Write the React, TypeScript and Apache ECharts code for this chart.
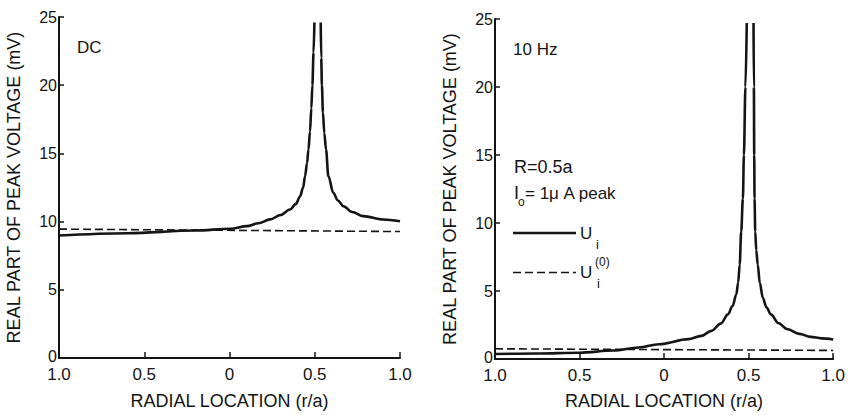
import React, { useEffect, useRef } from "react";
import * as echarts from "echarts";

// Radial location (r/a), signed: -1 .. 1 (labels show absolute value)
const dcUiLeftX = [-1, -0.6, -0.2, 0.004, 0.102, 0.17, 0.238, 0.3, 0.355, 0.39, 0.414, 0.432, 0.443, 0.455, 0.463, 0.472, 0.48, 0.486, 0.493, 0.498];
const dcUiLeftY = [8.98, 9.15, 9.35, 9.48, 9.67, 9.88, 10.16, 10.48, 10.89, 11.3, 11.86, 12.5, 13.33, 14.3, 15.28, 16.6, 18.3, 20.0, 22.4, 24.6];
const dcUiRightX = [0.535, 0.538, 0.542, 0.548, 0.556, 0.566, 0.58, 0.609, 0.635, 0.668, 0.72, 0.785, 0.9, 1.0];
const dcUiRightY = [24.6, 22.0, 20.0, 18.0, 16.5, 15.28, 13.33, 12.11, 11.55, 11.13, 10.7, 10.4, 10.15, 10.02];
const dcU0X = [-1, 1];
const dcU0Y = [9.45, 9.27];

const hzUiLeftX = [-1, -0.75, -0.5, -0.3, -0.15, -0.03, 0.144, 0.22, 0.28, 0.335, 0.378, 0.405, 0.427, 0.438, 0.447, 0.456, 0.466, 0.472, 0.481, 0.489];
const hzUiLeftY = [0.37, 0.4, 0.46, 0.62, 0.85, 1.09, 1.46, 1.7, 2.07, 2.6, 3.28, 3.9, 4.74, 5.6, 6.93, 9.37, 11.8, 15.0, 20.0, 24.7];
const hzUiRightX = [0.529, 0.531, 0.533, 0.535, 0.539, 0.545, 0.554, 0.566, 0.584, 0.605, 0.632, 0.675, 0.73, 0.8, 0.867, 0.93, 1.0];
const hzUiRightY = [24.7, 20.0, 15.0, 11.8, 9.37, 8.0, 6.93, 5.6, 4.5, 3.8, 3.28, 2.65, 2.19, 1.85, 1.63, 1.52, 1.44];
const hzU0X = [-1, 1];
const hzU0Y = [0.75, 0.63];

const yTicks = [0, 5, 10, 15, 20, 25];
const xTickLabels: Record<string, string> = { "-1": "1.0", "-0.5": "0.5", "0": "0", "0.5": "0.5", "1": "1.0" };

const xAxisTitle = "RADIAL LOCATION (r/a)";
const yAxisTitle = "REAL PART OF PEAK VOLTAGE (mV)";

const FONT = "'Liberation Sans', Arial, sans-serif";
const INK = "#141414";

const pairs = (xs: number[], ys: number[]) => xs.map((x, i) => [x, ys[i]]);

export default function App() {
  const ref = useRef<HTMLDivElement>(null);
  useEffect(() => {
    if (!ref.current) return;
    const chart = echarts.init(ref.current, undefined, { renderer: "svg" });

    const xAxisBase = (gridIndex: number, gap: number) => ({
      type: "value" as const,
      gridIndex,
      min: -1,
      max: 1,
      interval: 0.5,
      name: xAxisTitle,
      nameLocation: "middle" as const,
      nameGap: gap,
      nameTextStyle: { fontFamily: FONT, fontSize: 18, color: INK },
      axisLine: { show: true, onZero: false, lineStyle: { color: INK, width: 2 } },
      axisTick: { show: true, inside: true, length: 6, lineStyle: { color: INK, width: 1.5 } },
      axisLabel: {
        margin: 10,
        fontFamily: FONT,
        fontSize: 17,
        lineHeight: 13,
        color: INK,
        formatter: (v: number) => xTickLabels[String(v)] ?? String(Math.abs(v)),
      },
      splitLine: { show: false },
    });
    const yAxisBase = (gridIndex: number) => ({
      type: "value" as const,
      gridIndex,
      min: yTicks[0],
      max: yTicks[yTicks.length - 1],
      interval: 5,
      name: yAxisTitle,
      nameLocation: "middle" as const,
      nameGap: 36,
      nameTextStyle: { fontFamily: FONT, fontSize: 18, color: INK },
      axisLine: { show: true, onZero: false, lineStyle: { color: INK, width: 2 } },
      axisTick: { show: true, inside: true, length: 5, lineStyle: { color: INK, width: 1.5 } },
      axisLabel: {
        margin: 2,
        fontFamily: FONT,
        fontSize: 16,
        lineHeight: 12,
        color: INK,
        formatter: (v: number) => (v === 0 ? "{z|0}" : String(v)),
        rich: { z: { fontFamily: FONT, fontSize: 16, lineHeight: 12, color: INK, padding: [0, 0, 4, 0] } },
      },
      splitLine: { show: false },
    });

    const solid = (name: string, xi: number, data: number[][]) => ({
      type: "line" as const,
      name,
      xAxisIndex: xi,
      yAxisIndex: xi,
      data,
      showSymbol: false,
      smooth: 0.35,
      smoothMonotone: "x" as const,
      lineStyle: { color: INK, width: 2.6 },
      silent: true,
    });
    const dashed = (name: string, xi: number, data: number[][]) => ({
      type: "line" as const,
      name,
      xAxisIndex: xi,
      yAxisIndex: xi,
      data,
      showSymbol: false,
      lineStyle: { color: INK, width: 1.6, type: [8, 4] as number[] },
      silent: true,
    });

    const txt = (text: string, x: number, y: number, size = 17, align = "left") => ({
      type: "text" as const,
      x,
      y,
      style: {
        text,
        fontFamily: FONT,
        fontSize: size,
        fill: INK,
        textAlign: align,
        align,
        verticalAlign: "middle",
        textVerticalAlign: "middle",
      },
    });

    chart.setOption({
      animation: false,
      backgroundColor: "#ffffff",
      grid: [
        { left: 59, right: 448, top: 17, bottom: 56 },
        { left: 495, right: 12, top: 19, bottom: 53 },
      ],
      xAxis: [xAxisBase(0, 34), xAxisBase(1, 33)],
      yAxis: [yAxisBase(0), yAxisBase(1)],
      series: [
        solid("DC Ui", 0, pairs(dcUiLeftX, dcUiLeftY)),
        solid("DC Ui ", 0, pairs(dcUiRightX, dcUiRightY)),
        dashed("DC Ui(0)", 0, pairs(dcU0X, dcU0Y)),
        solid("10 Hz Ui", 1, pairs(hzUiLeftX, hzUiLeftY)),
        solid("10 Hz Ui ", 1, pairs(hzUiRightX, hzUiRightY)),
        dashed("10 Hz Ui(0)", 1, pairs(hzU0X, hzU0Y)),
      ],
      graphic: [
        txt("DC", 77, 47),
        txt("10 Hz", 513, 49),
        txt("R=0.5a", 514, 167, 18),
        txt("I", 514, 193, 18),
        txt("o", 518, 202, 12),
        txt("= 1μ A peak", 525, 193, 17),
        {
          type: "line",
          shape: { x1: 513, y1: 233, x2: 576, y2: 233 },
          style: { stroke: INK, lineWidth: 2.6 },
        },
        txt("U", 580, 233, 17),
        txt("i", 596, 244, 13),
        {
          type: "line",
          shape: { x1: 513, y1: 272.5, x2: 576, y2: 272.5 },
          style: { stroke: INK, lineWidth: 1.6, lineDash: [8, 4] },
        },
        txt("U", 580, 272, 17),
        txt("(0)", 595, 262, 12),
        txt("i", 597, 283, 13),
      ],
    });
    return () => chart.dispose();
  }, []);
  return (
    <div
      ref={ref}
      style={{ position: "absolute", left: 0, top: 0, width: 848, height: 415, background: "#fff" }}
    />
  );
}
